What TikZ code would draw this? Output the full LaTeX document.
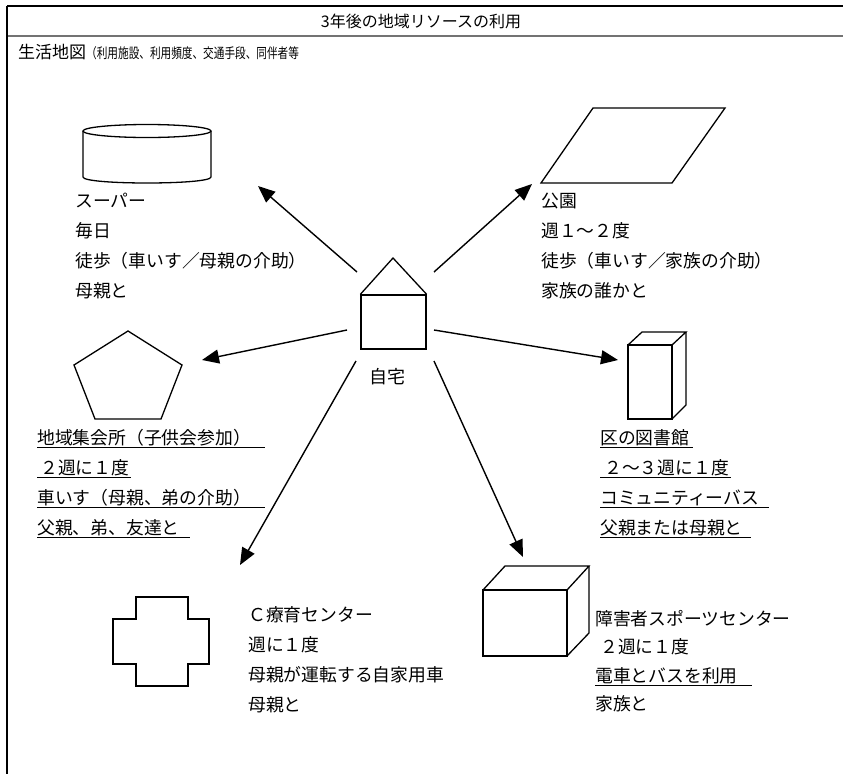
\documentclass[tikz,border=0pt]{standalone}
\usepackage{fontspec}
\setmainfont{Noto Sans CJK JP}
\usetikzlibrary{arrows.meta}
\newcommand\stk[2][30pt]{\vtop{\baselineskip=#1\lineskiplimit=-100pt\lineskip=0pt\halign{##\hfil\cr#2\crcr}}}
\newcommand\ulx[2][0pt]{\setbox0=\hbox{#2\hspace*{#1}}\rlap{\rule[-4pt]{\wd0}{1.2pt}}\box0}
\begin{document}
\begin{tikzpicture}[x=1pt,y=-1pt,
  shp/.style={line width=1.3pt, line join=miter},
  conn/.style={line width=1.4pt,-{Triangle[length=17pt,width=14pt]}},
  lbl/.style={inner sep=0pt, anchor=base west, font=\fontsize{17.8}{30}\selectfont}]
\useasboundingbox (0,0) rectangle (843,774);
% frame
\draw[line width=1.8pt] (7,6) -- (843,6);
\draw[line width=2pt, black!55] (7,36) -- (843,36);
\draw[line width=1.2pt] (7,6) -- (7,774);
\node[inner sep=0pt, font=\fontsize{16}{18}\selectfont] (title) at (421,21) {3年後の地域リソースの利用};
\node[inner sep=0pt, anchor=base west, font=\fontsize{17}{20}\selectfont] (sub) at (18,58)
  {生活地図\fontsize{14}{16}\selectfont\scalebox{0.76}[1]{（利用施設、利用頻度、交通手段、同伴者等}};
% home
\node[draw, shp, minimum width=65pt, minimum height=54pt, inner sep=0pt] (house) at (393.5,322) {};
\draw[shp] (house.north west) -- (393,258) -- (house.north east);
\node[inner sep=0pt, font=\fontsize{18}{20}\selectfont] (homelbl) at (387,377) {自宅};
% supermarket (cylinder)
\draw[shp] (147,131) ellipse [x radius=64, y radius=6.5];
\draw[shp] (83,131) -- (83,177) .. controls (83,185) and (211,185) .. (211,177) -- (211,131);
\node[lbl] (super) at (75,207) {\stk{スーパー\cr 毎日\cr 徒歩（車いす／母親の介助）\cr 母親と}};
% park (parallelogram)
\draw[shp] (541,183) -- (672,183) -- (725,108) -- (593,108) -- cycle;
\node[lbl] (park) at (541,207) {\stk{公園\cr 週１〜２度\cr 徒歩（車いす／家族の介助）\cr 家族の誰かと}};
% community hall (pentagon)
\draw[shp] (128,331) -- (182,365) -- (161,419) -- (95,419) -- (74,365) -- cycle;
\node[lbl] (hall) at (37,444) {\stk{\ulx[14pt]{地域集会所（子供会参加）}\cr
  \ulx[2pt]{\hspace*{3pt}２週に１度}\cr
  \ulx[14pt]{車いす（母親、弟の介助）}\cr
  \ulx[10pt]{父親、弟、友達と}}};
% library (tall cuboid)
\draw[shp] (628,345) rectangle (672,419);
\draw[shp] (628,345) -- (642,332) -- (686,332) -- (672,345);
\draw[shp] (686,332) -- (686,405) -- (672,419);
\node[lbl] (library) at (600,444) {\stk{\ulx[4pt]{区の図書館}\cr
  \ulx[2pt]{\hspace*{4pt}２〜３週に１度}\cr
  \ulx[10pt]{コミュニティーバス}\cr
  \ulx[8pt]{父親または母親と}}};
% C center (cross)
\draw[shp] (136,597) -- (188,597) -- (188,619) -- (209,619) -- (209,664) -- (188,664) -- (188,686)
  -- (136,686) -- (136,664) -- (113,664) -- (113,619) -- (136,619) -- cycle;
\node[lbl] (ccenter) at (248,621) {\stk{Ｃ療育センター\cr 週に１度\cr 母親が運転する自家用車\cr 母親と}};
% sports center (cube)
\draw[shp] (483,590) rectangle (567,656);
\draw[shp] (483,590) -- (505,566) -- (589,566) -- (567,590);
\draw[shp] (589,566) -- (589,633) -- (567,656);
\node[lbl] (sports) at (595,625) {\stk[28.5pt]{障害者スポーツセンター\cr \hspace*{5pt}２週に１度\cr \ulx[14pt]{電車とバスを利用}\cr 家族と}};
% connectors
\coordinate (s1) at (357,272); \coordinate (e1) at (258,186);
\coordinate (s2) at (434,272); \coordinate (e2) at (532,184);
\coordinate (s3) at (347,330); \coordinate (e3) at (202,360);
\coordinate (s4) at (434,330); \coordinate (e4) at (618,360);
\coordinate (s5) at (356,361); \coordinate (e5) at (240,565);
\coordinate (s6) at (434,361); \coordinate (e6) at (523,557);
\draw[conn] (s1) -- (e1);
\draw[conn] (s2) -- (e2);
\draw[conn] (s3) -- (e3);
\draw[conn] (s4) -- (e4);
\draw[conn] (s5) -- (e5);
\draw[conn] (s6) -- (e6);
\end{tikzpicture}
\end{document}
